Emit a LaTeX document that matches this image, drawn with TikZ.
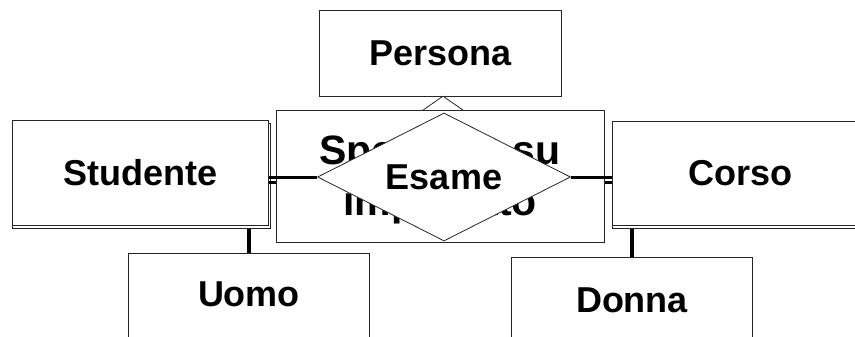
\documentclass[tikz,border=0pt]{standalone}
\usepackage{fontspec}
\setmainfont{Liberation Sans}
\usetikzlibrary{shapes.geometric}

\begin{document}
\begin{tikzpicture}[x=1pt, y=-1pt,
	ent/.style={draw=black!85, line width=1pt, fill=white, inner sep=0pt, anchor=north west,
		font=\bfseries\fontsize{36}{43}\selectfont},
	rel/.style={diamond, aspect=2, draw=black!85, line width=0.8pt, fill=white, inner sep=0pt,
		font=\bfseries\fontsize{36}{43}\selectfont},
	lab/.style={font=\bfseries\fontsize{36}{43}\selectfont},
	conn/.style={line width=3pt}]
	\useasboundingbox (0,0) rectangle (855,337);

	% entities
	\node[ent, minimum width=242pt, minimum height=86pt] (persona) at (319,10) {Persona};
	\node[rel, minimum width=172pt, minimum height=120pt] (isa) at (443,156) {};

	\node[ent, minimum width=258pt, minimum height=105pt] (studback) at (12,123) {};
	\node[ent, minimum width=256pt, minimum height=105pt] (studente) at (12,120) {Studente};
	\node[ent, minimum width=258pt, minimum height=104pt] (corsoback) at (612,124) {};
	\node[ent, minimum width=256pt, minimum height=104pt] (corso) at (612,121) {Corso};

	\node[ent, minimum width=241pt, minimum height=100pt] (uomo) at (128,253) {};
	\node[lab] (uomo-t) at ([yshift=-41pt]uomo.north) {Uomo};
	\node[ent, minimum width=241pt, minimum height=100pt] (donna) at (511,257) {};
	\node[lab] (donna-t) at ([yshift=-43.5pt]donna.north) {Donna};

	% link hidden behind the box
	\coordinate (low) at (440,182);
	\draw[conn] (low -| studente.east) -- (low -| corso.west);

	\node[ent, minimum width=328pt, minimum height=132pt] (spec) at (276,110) {};
	\node[font=\bfseries\fontsize{41}{51}\selectfont, align=center] (spec-t) at (440,179) {Specifico su\\impiegato};

	% relationship
	\node[rel, minimum width=253pt, minimum height=128pt] (esame) at (444,177) {Esame};
	\draw[conn] (esame.west) -- (esame.west -| studente.east);
	\draw[conn] (esame.east) -- (esame.east -| corso.west);

	\draw[line width=4pt] (uomo.north) -- (uomo.north |- studback.south);
	\draw[line width=4pt] (donna.north) -- (donna.north |- corsoback.south);
\end{tikzpicture}
\end{document}
